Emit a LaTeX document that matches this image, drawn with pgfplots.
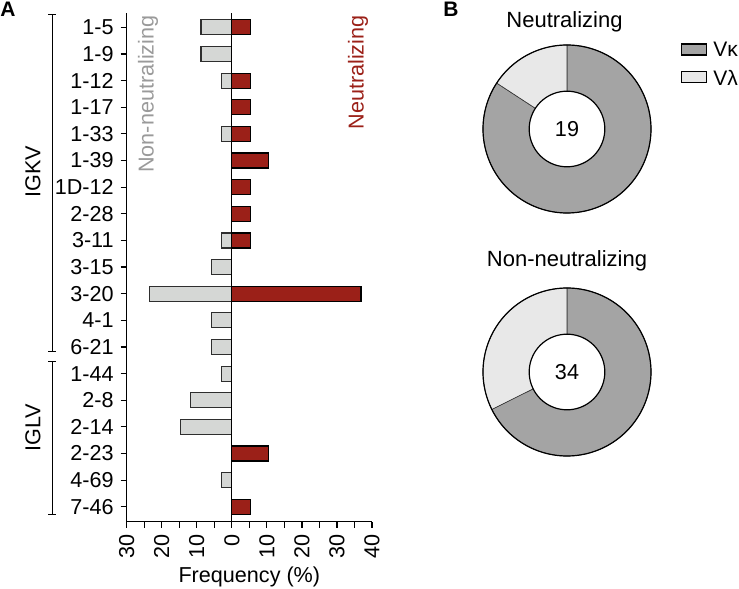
\documentclass[border=0pt]{standalone}
\usepackage{pgfplots}
\pgfplotsset{compat=1.18}
\usepackage{pgfplotstable}
\usepackage{fontspec}
\setmainfont{Liberation Sans}
\definecolor{neutred}{HTML}{9B2018}
\definecolor{nongray}{HTML}{D5D7D5}
\definecolor{nonedge}{HTML}{2E2E2E}
\definecolor{labgray}{HTML}{9A9A9A}
\definecolor{kappa}{HTML}{A4A4A4}
\definecolor{lambda}{HTML}{E8E8E8}

% y: position (18 = 1-5 at top); neut: % of neutralizing; non: % of non-neutralizing (negative side)
\pgfplotstableread{
y neut non
18 5.26 -8.82
17 nan -8.82
16 5.26 -2.94
15 5.26 nan
14 5.26 -2.94
13 10.53 nan
12 5.26 nan
11 5.26 nan
10 5.26 -2.94
9 nan -5.88
8 36.84 -23.53
7 nan -5.88
6 nan -5.88
5 nan -2.94
4 nan -11.76
3 nan -14.71
2 10.53 nan
1 nan -2.94
0 5.26 nan
}\bars

% light chain counts
\def\NeutK{16}\def\NeutL{3}
\def\NonK{23}\def\NonL{11}

\begin{document}
\begin{tikzpicture}
\useasboundingbox (0,0) rectangle (369.5pt,294.5pt);

\begin{axis}[at={(63.35pt,33.65pt)}, anchor=south west, scale only axis,
  width=122.65pt, height=254.5pt,
  xmin=-30, xmax=40, ymin=-0.56, ymax=18.55,
  axis x line*=bottom, axis y line*=left,
  axis line style={line width=0.6pt, black},
  xtick={-30,-20,...,40}, xticklabels={30,20,10,0,10,20,30,40},
  minor xtick={-25,-15,...,35},
  ytick={0,...,18},
  yticklabels={7-46,4-69,2-23,2-14,2-8,1-44,6-21,4-1,3-20,3-15,3-11,2-28,1D-12,1-39,1-33,1-17,1-12,1-9,1-5},
  tick align=outside, major tick length=3pt, minor tick length=3pt,
  tick style={line width=0.6pt, black},
  xticklabel style={rotate=90, anchor=east, font=\fontsize{10.8}{12}\selectfont},
  yticklabel style={font=\fontsize{10.8}{12}\selectfont},
  xlabel={Frequency (\%)},
  xlabel style={font=\fontsize{10.8}{13}\selectfont, at={(axis description cs:0.5,0)}, anchor=center, yshift=-27.4pt},
  clip=false]
\addplot[xbar, bar width=7.5pt, bar shift=0pt, fill=nongray, draw=nonedge, line width=0.6pt] table[x=non, y=y] {\bars};
\addplot[xbar, bar width=7.5pt, bar shift=0pt, fill=neutred, draw=black, line width=0.6pt] table[x=neut, y=y] {\bars};
\addplot[black, no markers, line width=0.6pt] coordinates {(0,-0.56) (0,18.55)};
\end{axis}

% annotations panel A
\node[anchor=north west, inner sep=0pt, font=\bfseries\fontsize{10.5}{12}\selectfont] at (0pt,293.5pt) {A};
\node[anchor=north west, inner sep=0pt, font=\bfseries\fontsize{10.5}{12}\selectfont] at (221.5pt,293.5pt) {B};
\node[rotate=90, anchor=east, inner sep=0pt, text=labgray, font=\fontsize{10.8}{13}\selectfont] at (74pt,287pt) {Non-neutralizing};
\node[rotate=90, anchor=east, inner sep=0pt, text=neutred, font=\fontsize{10.8}{13}\selectfont] at (179pt,287pt) {Neutralizing};
\draw[line width=0.5pt] (24.2pt,287pt) -- (28.2pt,287pt) (26.2pt,287pt) -- (26.2pt,118.65pt) (24.2pt,118.65pt) -- (28.2pt,118.65pt);
\draw[line width=0.5pt] (24.2pt,113.65pt) -- (28.2pt,113.65pt) (26.2pt,113.65pt) -- (26.2pt,37pt) (24.2pt,37pt) -- (28.2pt,37pt);
\node[rotate=90, font=\fontsize{10.8}{13}\selectfont] at (16.5pt,208.5pt) {IGKV};
\node[rotate=90, font=\fontsize{10.8}{13}\selectfont] at (16.5pt,80.5pt) {IGLV};

% donut: neutralizing
\pgfmathsetmacro{\aN}{90+360*\NeutL/(\NeutK+\NeutL)}
\begin{axis}[at={(241.5pt,188pt)}, anchor=south west, scale only axis,
  width=84pt, height=84pt, xmin=-1, xmax=1, ymin=-1, ymax=1, hide axis, clip=false]
\addplot[fill=kappa, draw=nonedge, line width=0.3pt, domain=\aN:450, samples=150] ({cos(x)},{sin(x)}) -- (axis cs:0,0) -- cycle;
\addplot[fill=lambda, draw=nonedge, line width=0.3pt, domain=90:\aN, samples=40] ({cos(x)},{sin(x)}) -- (axis cs:0,0) -- cycle;
\addplot[fill=white, draw=black, line width=0.6pt, domain=0:360, samples=120] ({0.45*cos(x)},{0.45*sin(x)}) -- cycle;
\addplot[draw=black, line width=0.6pt, domain=0:360, samples=180] ({cos(x)},{sin(x)});
\node[font=\fontsize{10.8}{12}\selectfont] at (axis cs:0,0) {19};
\end{axis}

% donut: non-neutralizing
\pgfmathsetmacro{\aNN}{90+360*\NonL/(\NonK+\NonL)}
\begin{axis}[at={(241.5pt,66.5pt)}, anchor=south west, scale only axis,
  width=84pt, height=84pt, xmin=-1, xmax=1, ymin=-1, ymax=1, hide axis, clip=false]
\addplot[fill=kappa, draw=nonedge, line width=0.3pt, domain=\aNN:450, samples=150] ({cos(x)},{sin(x)}) -- (axis cs:0,0) -- cycle;
\addplot[fill=lambda, draw=nonedge, line width=0.3pt, domain=90:\aNN, samples=60] ({cos(x)},{sin(x)}) -- (axis cs:0,0) -- cycle;
\addplot[fill=white, draw=black, line width=0.6pt, domain=0:360, samples=120] ({0.45*cos(x)},{0.45*sin(x)}) -- cycle;
\addplot[draw=black, line width=0.6pt, domain=0:360, samples=180] ({cos(x)},{sin(x)});
\node[font=\fontsize{10.8}{12}\selectfont] at (axis cs:0,0) {34};
\end{axis}

% titles and legend panel B
\node[font=\fontsize{11}{13}\selectfont] at (282.25pt,283.5pt) {Neutralizing};
\node[font=\fontsize{11}{13}\selectfont] at (283.5pt,164pt) {Non-neutralizing};
\draw[line width=0.6pt, fill=kappa] (340.85pt,267pt) rectangle (353.35pt,272.5pt);
\draw[line width=0.6pt, fill=lambda] (340.85pt,253.05pt) rectangle (353.35pt,258.55pt);
\node[anchor=west, inner sep=0pt, font=\fontsize{10.5}{12}\selectfont] at (356.5pt,269.75pt) {Vκ};
\node[anchor=west, inner sep=0pt, font=\fontsize{10.5}{12}\selectfont] at (356.5pt,255.8pt) {Vλ};
\end{tikzpicture}
\end{document}
